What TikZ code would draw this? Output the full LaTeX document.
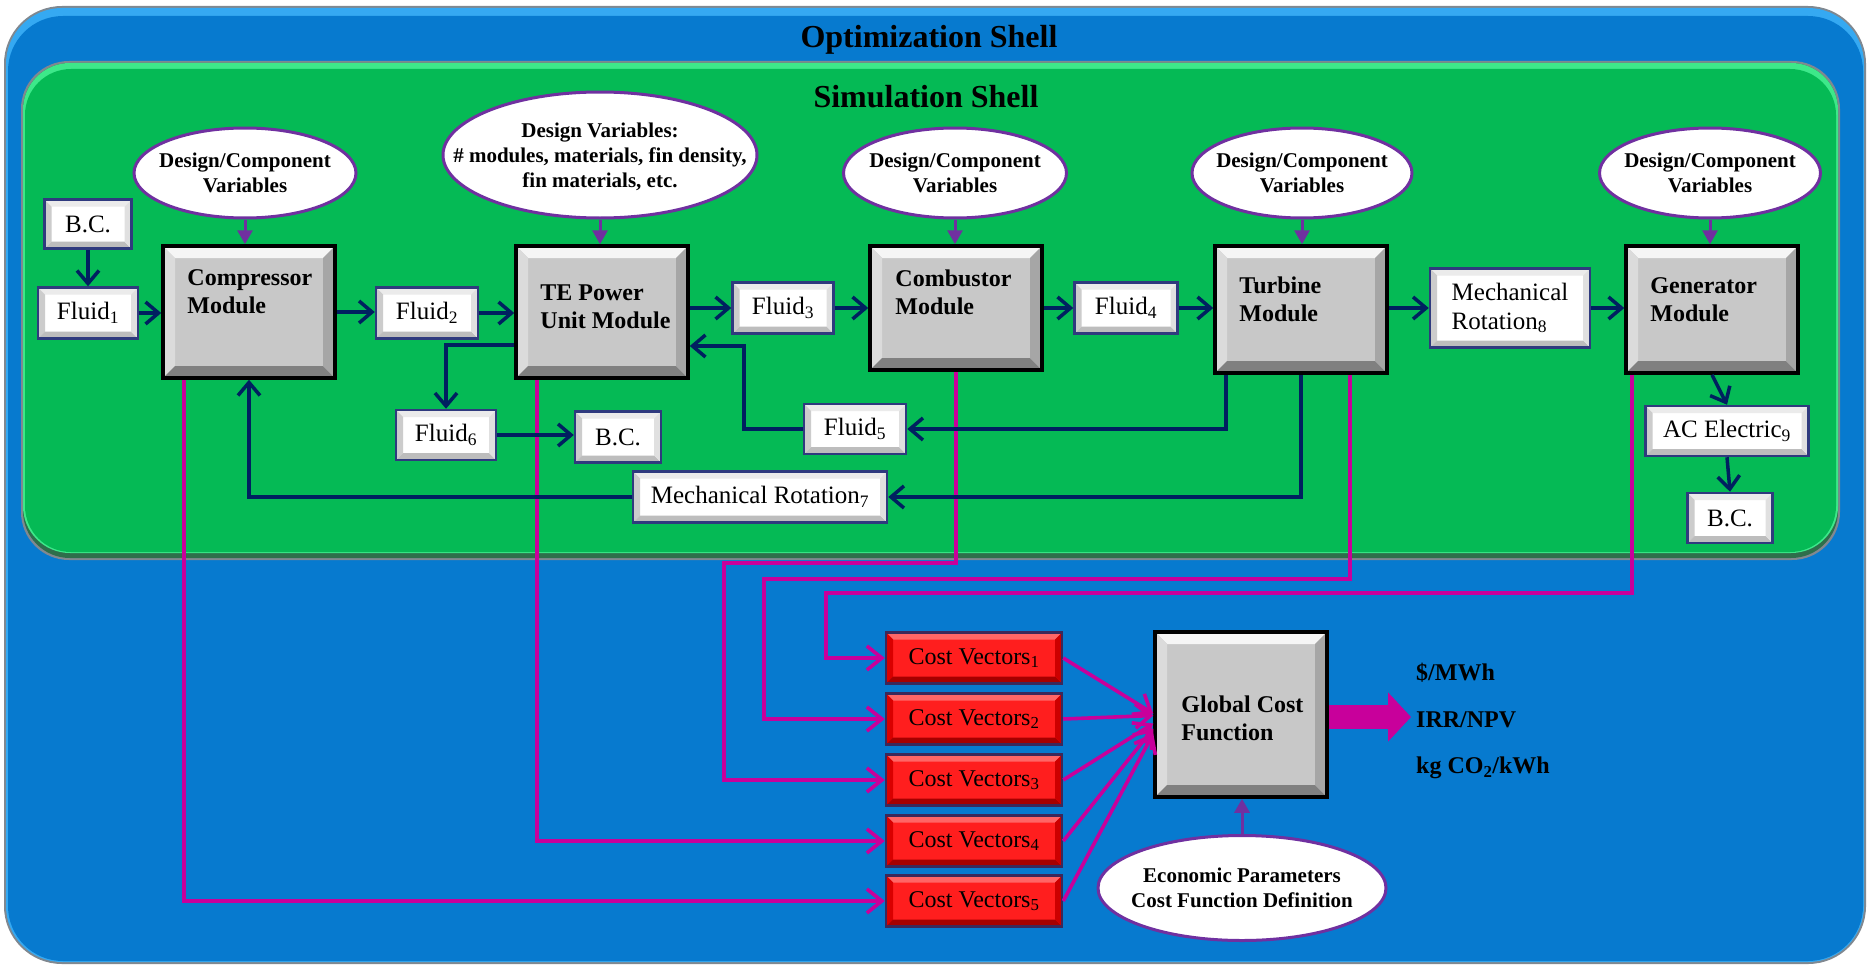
\documentclass[tikz,border=0pt]{standalone}
\usepackage{fontspec}
\setmainfont{Liberation Serif}
\usetikzlibrary{arrows.meta,shapes.geometric,calc}
\definecolor{shellblue}{RGB}{7,122,207}
\definecolor{shellblueL}{RGB}{53,169,242}
\definecolor{shellgray}{RGB}{128,136,144}
\definecolor{simgreen}{RGB}{5,186,85}
\definecolor{simgreenL}{RGB}{61,232,138}
\definecolor{simgreenD}{RGB}{46,110,75}
\definecolor{navy}{RGB}{0,32,96}
\definecolor{purp}{RGB}{112,48,160}
\definecolor{magen}{RGB}{200,0,155}
\definecolor{boxborder}{RGB}{47,58,126}
\definecolor{modgray}{RGB}{200,200,200}
\definecolor{cvred}{RGB}{255,30,30}
\definecolor{cvborder}{RGB}{60,40,90}
\tikzset{
 bevel/.style n args={5}{path picture={
  \fill[#2] (path picture bounding box.north west) -- (path picture bounding box.north east) -- ([xshift=-#1pt,yshift=-#1pt]path picture bounding box.north east) -- ([xshift=#1pt,yshift=-#1pt]path picture bounding box.north west) -- cycle;
  \fill[#3] (path picture bounding box.north west) -- ([xshift=#1pt,yshift=-#1pt]path picture bounding box.north west) -- ([xshift=#1pt,yshift=#1pt]path picture bounding box.south west) -- (path picture bounding box.south west) -- cycle;
  \fill[#4] (path picture bounding box.south west) -- ([xshift=#1pt,yshift=#1pt]path picture bounding box.south west) -- ([xshift=-#1pt,yshift=#1pt]path picture bounding box.south east) -- (path picture bounding box.south east) -- cycle;
  \fill[#5] (path picture bounding box.south east) -- ([xshift=-#1pt,yshift=#1pt]path picture bounding box.south east) -- ([xshift=-#1pt,yshift=-#1pt]path picture bounding box.north east) -- (path picture bounding box.north east) -- cycle;
 }},
 module/.style={draw=black, line width=3.5pt, fill=modgray, minimum width=172pt, minimum height=132pt, inner sep=0pt, bevel={12}{black!4}{black!14}{black!50}{black!35}},
 modtext/.style={font=\fontsize{24}{28}\selectfont\bfseries, align=left, anchor=west, inner sep=0pt},
 wbox/.style={draw=boxborder, line width=2.5pt, fill=white, inner sep=0pt, align=left, font=\fontsize{25}{29}\selectfont, bevel={7}{black!8}{black!20}{black!26}{black!12}},
 redbox/.style={draw=cvborder, line width=2.5pt, fill=cvred, inner sep=0pt, minimum width=176pt, minimum height=51pt, font=\fontsize{24}{28}\selectfont, bevel={7}{red!60!white}{red!85!black}{red!65!black}{red!80!black}},
 ell/.style={ellipse, draw=purp, line width=3pt, fill=white, inner sep=0pt},
 elltext/.style={font=\fontsize{21}{25}\selectfont\bfseries, align=center, inner sep=0pt},
 titletext/.style={font=\fontsize{32}{36}\selectfont\bfseries, inner sep=0pt},
 outtext/.style={font=\fontsize{24}{28}\selectfont\bfseries, anchor=west, inner sep=0pt},
 navyarrow/.style={draw=navy, line width=3.5pt, -{Straight Barb[length=13pt,width=22pt]}},
 purparrow/.style={draw=purp, line width=3pt, -{Triangle[length=14pt,width=15pt]}},
 magline/.style={draw=magen, line width=3.6pt, -{Straight Barb[length=15pt,width=24pt]}},
 bigarrow/.style={draw=magen, line width=24pt, -{Triangle[length=23pt,width=48pt]}},
}
\begin{document}
\begin{tikzpicture}[x=1pt,y=-1pt]
\useasboundingbox (0,0) rectangle (1868,966);
\fill[white] (0,0) rectangle (1868,966);
% optimization shell
\fill[shellgray, rounded corners=58pt] (4,6) rectangle (1866,964);
\fill[shellblueL, rounded corners=56pt] (6,8) rectangle (1864,962);
\fill[shellblue, rounded corners=55pt] (8,16) rectangle (1863,961);
% simulation shell
\fill[shellgray, rounded corners=48pt] (21,61) rectangle (1840,560);
\fill[simgreenD, rounded corners=47pt] (23,63) rectangle (1838,558);
\fill[simgreenL, rounded corners=47pt] (23,63) rectangle (1838,553);
\fill[simgreen, rounded corners=46pt] (25,69) rectangle (1836,552);

\node[titletext] (opt) at (929,40) {Optimization Shell};
\node[titletext] (sim) at (926,97) {Simulation Shell};

% modules
\node[module] (comp) at (249,312) {};
\node[modtext] (compt) at ([xshift=26pt,yshift=-47.5pt]comp.north west) {Compressor\\Module};
\node[module] (te) at (602,312) {};
\node[modtext] (tet) at ([xshift=26pt,yshift=-63pt]te.north west) {TE Power\\Unit Module};
\node[module, minimum height=124pt] (comb) at (956,308) {};
\node[modtext] (combt) at ([xshift=27pt,yshift=-48pt]comb.north west) {Combustor\\Module};
\node[module, minimum height=127pt] (turb) at (1301,309.5) {};
\node[modtext] (turbt) at ([xshift=26pt,yshift=-55pt]turb.north west) {Turbine\\Module};
\node[module, minimum height=127pt] (gen) at (1712,309.5) {};
\node[modtext] (gent) at ([xshift=26pt,yshift=-55pt]gen.north west) {Generator\\Module};

% ellipses
\node[ell, minimum width=222pt, minimum height=90pt] (e1) at (245,173) {};
\node[elltext] (e1t) at (e1) {Design/Component\\Variables};
\node[ell, minimum width=314pt, minimum height=126pt] (e2) at (600,155) {};
\node[elltext] (e2t) at ([yshift=-2pt]e2.center) {Design Variables:\\\# modules, materials, fin density,\\fin materials, etc.};
\node[ell, minimum width=223pt, minimum height=90pt] (e3) at (955,173) {};
\node[elltext] (e3t) at (e3) {Design/Component\\Variables};
\node[ell, minimum width=220pt, minimum height=90pt] (e4) at (1302,173) {};
\node[elltext] (e4t) at (e4) {Design/Component\\Variables};
\node[ell, minimum width=221pt, minimum height=90pt] (e5) at (1710,173) {};
\node[elltext] (e5t) at (e5) {Design/Component\\Variables};

% white boxes
\node[wbox, minimum width=87pt, minimum height=49pt] (bc1) at (88,224) {B.C.};
\node[wbox, minimum width=100pt, minimum height=51pt] (f1) at (88,313) {Fluid\textsubscript{1}};
\node[wbox, minimum width=102pt, minimum height=51pt] (f2) at (427,313) {Fluid\textsubscript{2}};
\node[wbox, minimum width=101pt, minimum height=51pt] (f3) at (783,308) {Fluid\textsubscript{3}};
\node[wbox, minimum width=103pt, minimum height=51pt] (f4) at (1126,308) {Fluid\textsubscript{4}};
\node[wbox, minimum width=160pt, minimum height=79pt] (mr8) at (1510,308) {Mechanical\\Rotation\textsubscript{8}};
\node[wbox, minimum width=163pt, minimum height=50pt] (ac9) at (1727,431) {AC Electric\textsubscript{9}};
\node[wbox, minimum width=85pt, minimum height=50pt] (bc3) at (1730,518) {B.C.};
\node[wbox, minimum width=100pt, minimum height=50pt] (f6) at (446,435) {Fluid\textsubscript{6}};
\node[wbox, minimum width=86pt, minimum height=51pt] (bc2) at (618,437) {B.C.};
\node[wbox, minimum width=102pt, minimum height=50pt] (f5) at (855,429) {Fluid\textsubscript{5}};
\node[wbox, minimum width=254pt, minimum height=51pt] (mr7) at (760,497) {Mechanical Rotation\textsubscript{7}};

% cost part
\node[redbox] (cv1) at (974,658) {Cost Vectors\textsubscript{1}};
\node[redbox] (cv2) at (974,719) {Cost Vectors\textsubscript{2}};
\node[redbox] (cv3) at (974,780) {Cost Vectors\textsubscript{3}};
\node[redbox] (cv4) at (974,841) {Cost Vectors\textsubscript{4}};
\node[redbox] (cv5) at (974,901) {Cost Vectors\textsubscript{5}};
\node[module, minimum height=165pt] (glob) at (1241,714.5) {};
\node[modtext] (globt) at ([xshift=28pt,yshift=-3.5pt]glob.west) {Global Cost\\Function};
\node[ell, minimum width=288pt, minimum height=105pt] (eco) at (1242,888) {};
\node[elltext] (ecot) at (eco) {Economic Parameters\\Cost Function Definition};
\node[outtext] (o1) at (1416,673) {\$/MWh};
\node[outtext] (o2) at (1416,720) {IRR/NPV};
\node[outtext] (o3) at (1416,768) {kg CO\textsubscript{2}/kWh};

% magenta routing
\coordinate (cb1) at (724,563);
\coordinate (cb2) at (764,579);
\coordinate (cb3) at (826,593);
\draw[magline] ([xshift=-65pt]comp.south) |- (cv5.west);
\draw[magline] ([xshift=-65pt]te.south) |- (cv4.west);
\draw[magline] (comb.south) |- (cb1) |- (cv3.west);
\draw[magline] ([xshift=49pt]turb.south) |- (cb2) |- (cv2.west);
\draw[magline] ([xshift=-80pt]gen.south) |- (cb3) |- (cv1.west);
\draw[magline] (cv1.east) -- ([yshift=1pt]glob.west);
\draw[magline] (cv2.east) -- ([yshift=-1pt]glob.west);
\draw[magline] (cv3.east) -- ([yshift=-9pt]glob.west);
\draw[magline] (cv4.east) -- ([yshift=-14pt]glob.west);
\draw[magline] (cv5.east) -- ([yshift=-19pt]glob.west);
\coordinate (otip) at (1411,717);
\draw[bigarrow] (glob.east |- otip) -- (otip);

% navy flows
\draw[navyarrow] (bc1.south) -- (f1.north);
\draw[navyarrow] (f1.east) -- (f1.east -| comp.west);
\draw[navyarrow] (comp.east) -- (comp.east -| f2.west);
\draw[navyarrow] (f2.east) -- (f2.east -| te.west);
\draw[navyarrow] (te.east |- f3.west) -- (f3.west);
\draw[navyarrow] (f3.east) -- (f3.east -| comb.west);
\draw[navyarrow] (comb.east |- f4.west) -- (f4.west);
\draw[navyarrow] (f4.east) -- (f4.east -| turb.west);
\draw[navyarrow] (turb.east |- mr8.west) -- (mr8.west);
\draw[navyarrow] (mr8.east) -- (mr8.east -| gen.west);
\draw[navyarrow] (gen.south) -- (ac9.north);
\draw[navyarrow] (ac9.south) -- (bc3.north);
\draw[navyarrow] ([yshift=-33pt]te.west) -| (f6.north);
\draw[navyarrow] (f6.east) -- (f6.east -| bc2.west);
\draw[navyarrow] ([xshift=-75pt]turb.south) |- (f5.east);
\draw[navyarrow] (f5.west) -- ++(-59pt,0pt) |- ([yshift=-34pt]te.east);
\draw[navyarrow] (turb.south) |- (mr7.east);
\draw[navyarrow] (mr7.west) -| (comp.south);

% purple inputs
\draw[purparrow] (e1.south) -- (e1.south |- comp.north);
\draw[purparrow] (e2.south) -- (e2.south |- te.north);
\draw[purparrow] (e3.south) -- (e3.south |- comb.north);
\draw[purparrow] (e4.south) -- (e4.south |- turb.north);
\draw[purparrow] (e5.south) -- (e5.south |- gen.north);
\draw[purparrow] (eco.north) -- (eco.north |- glob.south);
\end{tikzpicture}
\end{document}
